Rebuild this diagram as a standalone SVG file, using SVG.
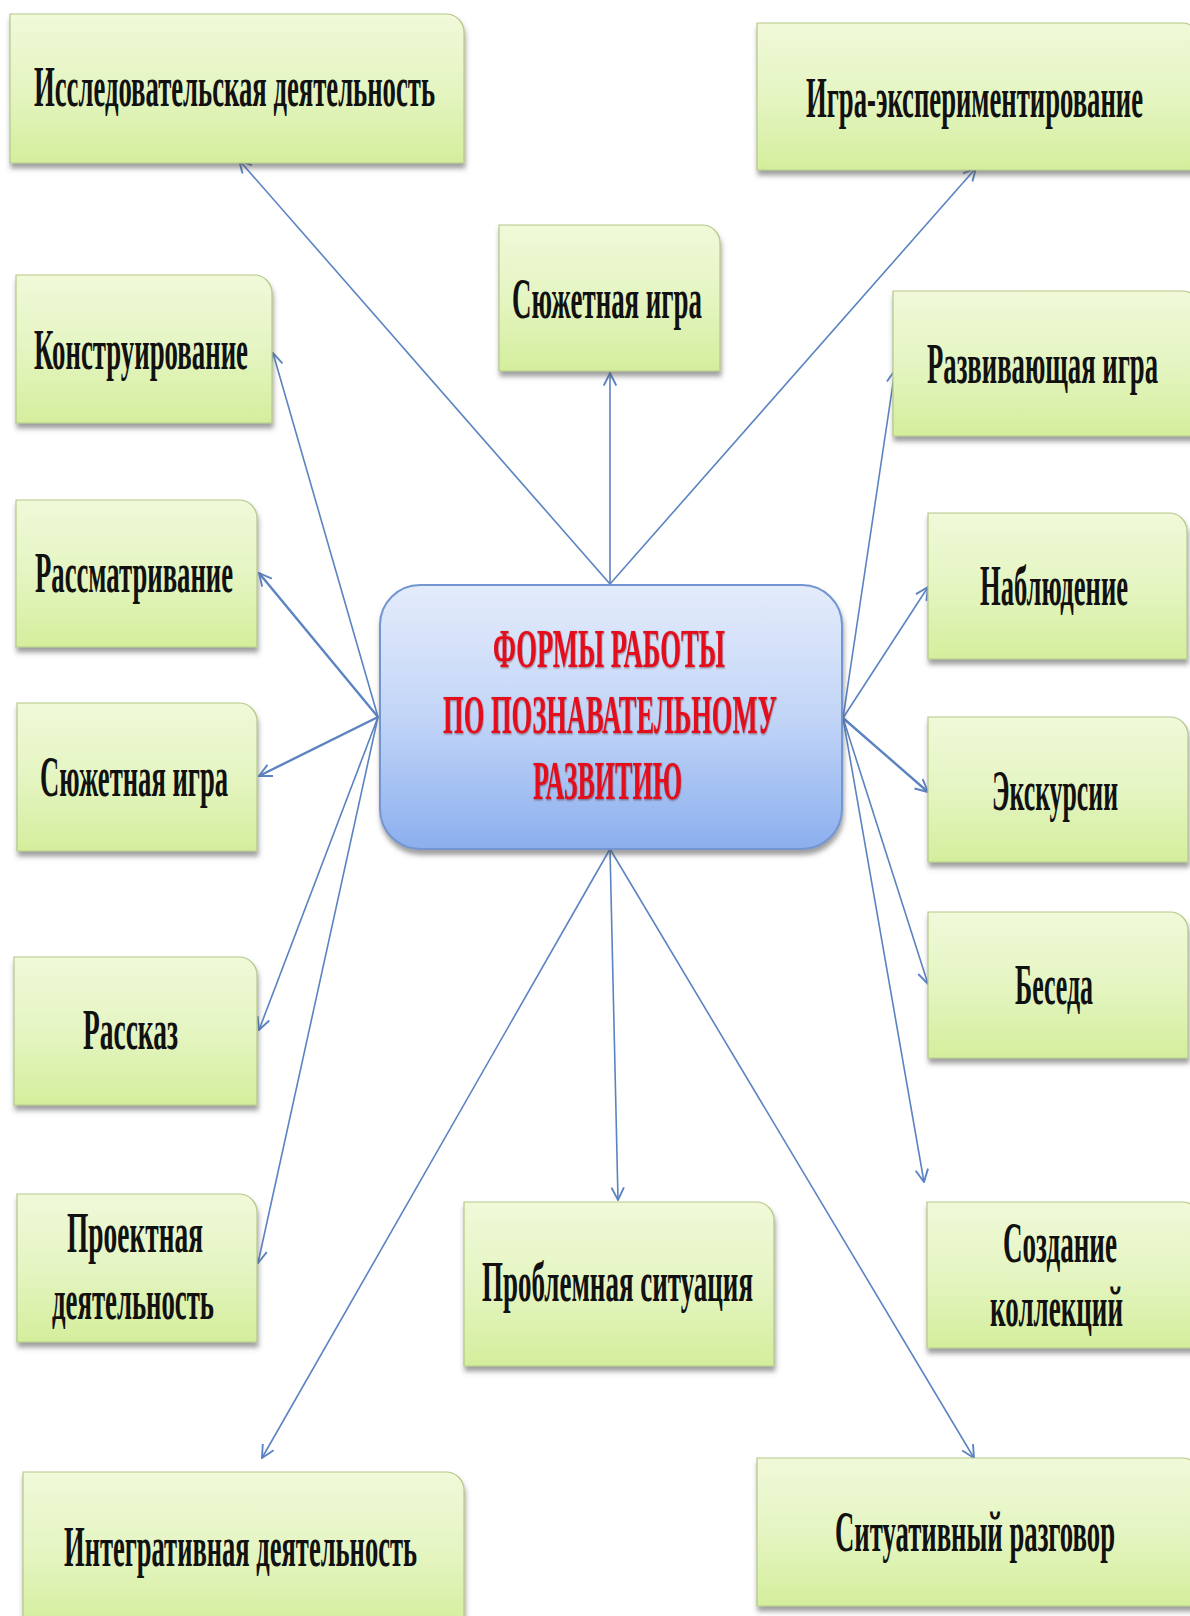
<svg xmlns="http://www.w3.org/2000/svg" width="1190" height="1616" viewBox="0 0 1190 1616">
<defs>
<linearGradient id="gG" x1="0" y1="0" x2="0" y2="1">
<stop offset="0" stop-color="#f0f9d9"/>
<stop offset="0.5" stop-color="#e5f5c2"/>
<stop offset="1" stop-color="#d4ee9c"/>
</linearGradient>
<linearGradient id="gB" x1="0" y1="0" x2="0" y2="1">
<stop offset="0" stop-color="#e4ecfb"/>
<stop offset="0.5" stop-color="#c2d5f7"/>
<stop offset="1" stop-color="#8bafee"/>
</linearGradient>
<filter id="sh" x="-5%" y="-5%" width="115%" height="125%">
<feDropShadow dx="1" dy="5" stdDeviation="2.5" flood-color="#505050" flood-opacity="0.55"/>
</filter>
<filter id="tsh" x="-5%" y="-20%" width="110%" height="140%">
<feDropShadow dx="0.5" dy="0.5" stdDeviation="0.5" flood-color="#400000" flood-opacity="0.5"/>
</filter>
<marker id="ah" viewBox="0 0 12 12" refX="11" refY="6" markerWidth="15" markerHeight="15" markerUnits="userSpaceOnUse" orient="auto">
<path d="M1,1 L11,6 L1,11" fill="none" stroke="#5b83c2" stroke-width="1.5"/>
</marker>
</defs>
<style>
.box{fill:url(#gG);stroke:#b5c98a;stroke-width:1.2;filter:url(#sh)}
.cbox{fill:url(#gB);stroke:#7396d0;stroke-width:2;filter:url(#sh)}
.lbl{font-family:"Liberation Serif","Times New Roman",serif;font-weight:bold;font-size:29px;fill:#111}
.ttl{font-family:"Liberation Serif","Times New Roman",serif;font-weight:bold;font-size:27px;fill:#e3101c;filter:url(#tsh)}
.cn{stroke:#5b83c2;stroke-width:1.6;fill:none;marker-end:url(#ah)}
.cn.th{stroke-width:2.4}
</style>
<rect width="1190" height="1616" fill="#ffffff"/>
<g id="connectors">
<line class="cn" x1="610" y1="584" x2="239" y2="160"/>
<line class="cn" x1="610" y1="584" x2="610" y2="373"/>
<line class="cn" x1="610" y1="584" x2="976" y2="168"/>
<line class="cn" x1="378" y1="717" x2="273" y2="353"/>
<line class="cn th" x1="378" y1="717" x2="259" y2="573"/>
<line class="cn th" x1="378" y1="717" x2="259" y2="776"/>
<line class="cn" x1="378" y1="717" x2="259" y2="1030"/>
<line class="cn" x1="378" y1="717" x2="258" y2="1263"/>
<line class="cn" x1="610" y1="849" x2="618" y2="1200"/>
<line class="cn" x1="610" y1="849" x2="262" y2="1458"/>
<line class="cn" x1="610" y1="849" x2="974" y2="1458"/>
<line class="cn" x1="843" y1="718" x2="895" y2="370"/>
<line class="cn" x1="843" y1="718" x2="928" y2="587"/>
<line class="cn th" x1="843" y1="718" x2="928" y2="792"/>
<line class="cn" x1="843" y1="718" x2="928" y2="984"/>
<line class="cn" x1="843" y1="718" x2="924" y2="1182"/>
</g>
<g id="center">
<rect class="cbox" x="380" y="585" width="462" height="264" rx="40" ry="40"/>
<text class="ttl" transform="translate(493,667) scale(1,2)" textLength="232" lengthAdjust="spacingAndGlyphs">ФОРМЫ РАБОТЫ</text>
<text class="ttl" transform="translate(443,733) scale(1,2)" textLength="334" lengthAdjust="spacingAndGlyphs">ПО ПОЗНАВАТЕЛЬНОМУ</text>
<text class="ttl" transform="translate(533,799) scale(1,2)" textLength="149" lengthAdjust="spacingAndGlyphs">РАЗВИТИЮ</text>
</g>
<g id="n-issled">
<path class="box" d="M10,14 H446 A18,18 0 0 1 464,32 V163 H10 Z"/>
<text class="lbl" transform="translate(34,106) scale(1,2)" textLength="401" lengthAdjust="spacingAndGlyphs">Исследовательская деятельность</text>
</g>
<g id="n-igra-exp">
<path class="box" d="M757,23 H1182 A18,18 0 0 1 1200,41 V170 H757 Z"/>
<text class="lbl" transform="translate(806,117) scale(1,2)" textLength="337" lengthAdjust="spacingAndGlyphs">Игра-экспериментирование</text>
</g>
<g id="n-syuzh-top">
<path class="box" d="M499,225 H702 A18,18 0 0 1 720,243 V371 H499 Z"/>
<text class="lbl" transform="translate(512,318) scale(1,2)" textLength="190" lengthAdjust="spacingAndGlyphs">Сюжетная игра</text>
</g>
<g id="n-konstr">
<path class="box" d="M16,275 H254 A18,18 0 0 1 272,293 V423 H16 Z"/>
<text class="lbl" transform="translate(34,369) scale(1,2)" textLength="214" lengthAdjust="spacingAndGlyphs">Конструирование</text>
</g>
<g id="n-razv">
<path class="box" d="M893,291 H1182 A18,18 0 0 1 1200,309 V436 H893 Z"/>
<text class="lbl" transform="translate(927,383) scale(1,2)" textLength="231" lengthAdjust="spacingAndGlyphs">Развивающая игра</text>
</g>
<g id="n-nabl">
<path class="box" d="M928,513 H1169 A18,18 0 0 1 1187,531 V659 H928 Z"/>
<text class="lbl" transform="translate(980,605) scale(1,2)" textLength="148" lengthAdjust="spacingAndGlyphs">Наблюдение</text>
</g>
<g id="n-rassm">
<path class="box" d="M16,500 H239 A18,18 0 0 1 257,518 V647 H16 Z"/>
<text class="lbl" transform="translate(35,592) scale(1,2)" textLength="198" lengthAdjust="spacingAndGlyphs">Рассматривание</text>
</g>
<g id="n-syuzh-left">
<path class="box" d="M17,703 H239 A18,18 0 0 1 257,721 V851 H17 Z"/>
<text class="lbl" transform="translate(40,796) scale(1,2)" textLength="188" lengthAdjust="spacingAndGlyphs">Сюжетная игра</text>
</g>
<g id="n-ekskurs">
<path class="box" d="M928,717 H1170 A18,18 0 0 1 1188,735 V862 H928 Z"/>
<text class="lbl" transform="translate(992,810) scale(1,2)" textLength="126" lengthAdjust="spacingAndGlyphs">Экскурсии</text>
</g>
<g id="n-beseda">
<path class="box" d="M928,912 H1170 A18,18 0 0 1 1188,930 V1058 H928 Z"/>
<text class="lbl" transform="translate(1015,1004) scale(1,2)" textLength="78" lengthAdjust="spacingAndGlyphs">Беседа</text>
</g>
<g id="n-rasskaz">
<path class="box" d="M14,957 H239 A18,18 0 0 1 257,975 V1105 H14 Z"/>
<text class="lbl" transform="translate(83,1049) scale(1,2)" textLength="95" lengthAdjust="spacingAndGlyphs">Рассказ</text>
</g>
<g id="n-proekt">
<path class="box" d="M17,1194 H239 A18,18 0 0 1 257,1212 V1342 H17 Z"/>
<text class="lbl" transform="translate(67,1252) scale(1,2)" textLength="136" lengthAdjust="spacingAndGlyphs">Проектная</text>
<text class="lbl" transform="translate(52,1319) scale(1,2)" textLength="162" lengthAdjust="spacingAndGlyphs">деятельность</text>
</g>
<g id="n-problem">
<path class="box" d="M464,1202 H756 A18,18 0 0 1 774,1220 V1366 H464 Z"/>
<text class="lbl" transform="translate(482,1301) scale(1,2)" textLength="271" lengthAdjust="spacingAndGlyphs">Проблемная ситуация</text>
</g>
<g id="n-sozdanie">
<path class="box" d="M927,1202 H1182 A18,18 0 0 1 1200,1220 V1348 H927 Z"/>
<text class="lbl" transform="translate(1003,1262) scale(1,2)" textLength="114" lengthAdjust="spacingAndGlyphs">Создание</text>
<text class="lbl" transform="translate(990,1326) scale(1,2)" textLength="133" lengthAdjust="spacingAndGlyphs">коллекций</text>
</g>
<g id="n-integr">
<path class="box" d="M23,1472 H446 A18,18 0 0 1 464,1490 V1630 H23 Z"/>
<text class="lbl" transform="translate(64,1566) scale(1,2)" textLength="353" lengthAdjust="spacingAndGlyphs">Интегративная деятельность</text>
</g>
<g id="n-situat">
<path class="box" d="M757,1458 H1182 A18,18 0 0 1 1200,1476 V1606 H757 Z"/>
<text class="lbl" transform="translate(835,1551) scale(1,2)" textLength="280" lengthAdjust="spacingAndGlyphs">Ситуативный разговор</text>
</g>
</svg>
